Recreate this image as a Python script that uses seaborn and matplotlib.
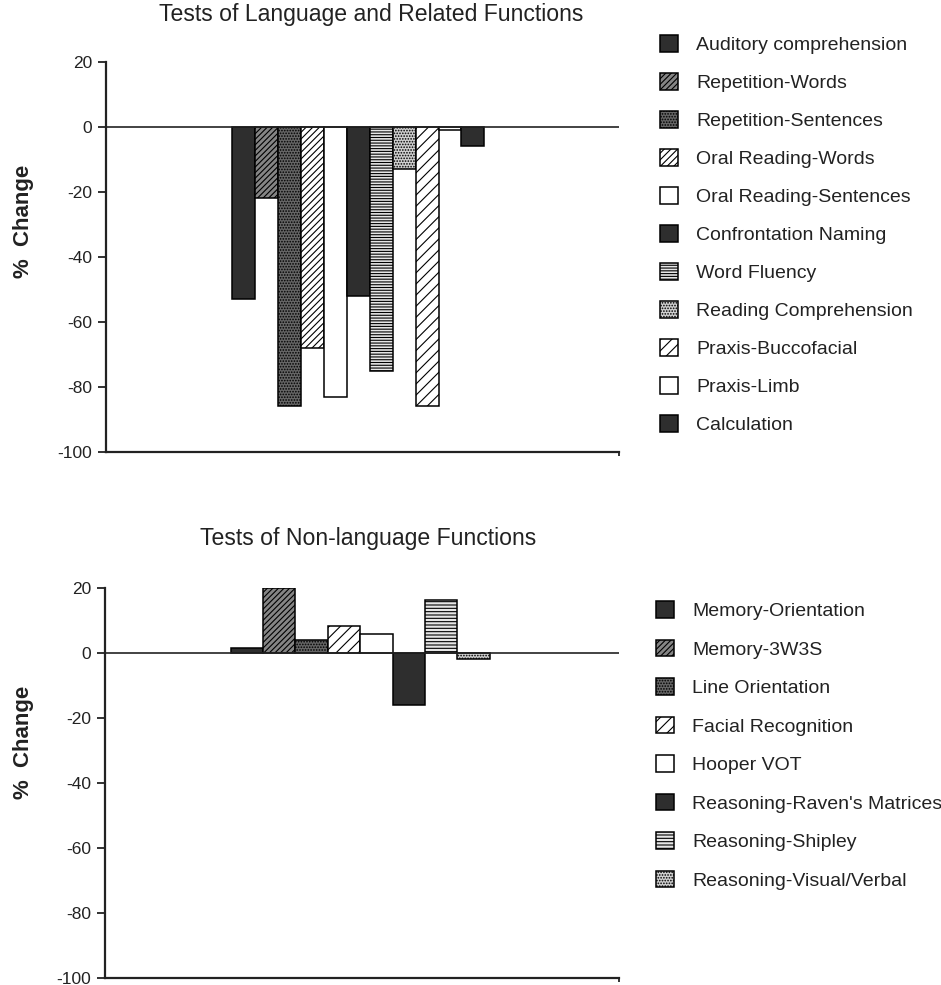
import matplotlib
matplotlib.use("Agg")
import matplotlib.pyplot as plt
import seaborn as sns
import pandas as pd
from matplotlib.patches import Patch

# ---- data -------------------------------------------------------------
lang_tests = [
    "Auditory comprehension", "Repetition-Words", "Repetition-Sentences",
    "Oral Reading-Words", "Oral Reading-Sentences", "Confrontation Naming",
    "Word Fluency", "Reading Comprehension", "Praxis-Buccofacial",
    "Praxis-Limb", "Calculation",
]
lang_change = [-53, -22, -86, -68, -83, -52, -75, -13, -86, -1, -6]

nonlang_tests = [
    "Memory-Orientation", "Memory-3W3S", "Line Orientation",
    "Facial Recognition", "Hooper VOT", "Reasoning-Raven's Matrices",
    "Reasoning-Shipley", "Reasoning-Visual/Verbal",
]
nonlang_change = [1.5, 20, 4, 8.5, 6, -16, 16.5, -1.8]

y_ticks = [20, 0, -20, -40, -60, -80, -100]
titles = ["Tests of Language and Related Functions", "Tests of Non-language Functions"]
y_label = "%  Change"

# ---- fill styles (face colour, hatch) ----------------------------------
DARK = "#2e2e2e"
styles_lang = [
    (DARK, None),             # solid
    ("#858585", "//////"),    # dark diagonal
    ("#666666", "......"),    # dark stipple
    ("white", "/////"),       # dense diagonal
    ("white", None),          # open
    (DARK, None),             # solid
    ("#e6e6e6", "------"),    # horizontal lines
    ("#d0d0d0", "......"),    # light stipple
    ("white", "///"),         # sparse diagonal
    ("white", None),          # open
    (DARK, None),             # solid
]
styles_nonlang = [
    (DARK, None),
    ("#858585", "//////"),
    ("#666666", "......"),
    ("white", "///"),
    ("white", None),
    (DARK, None),
    ("#e6e6e6", "-----"),
    ("#d0d0d0", "......"),
]

# ---- theme ------------------------------------------------------------
sns.set_theme(style="ticks")
plt.rcParams["font.family"] = ["Liberation Sans", "DejaVu Sans"]
plt.rcParams["axes.unicode_minus"] = False
plt.rcParams["hatch.linewidth"] = 0.8
TXT = "#222222"

W, H = 941, 985
fig = plt.figure(figsize=(W / 100, H / 100), dpi=100)
fig.patch.set_facecolor("white")


def px_axes(left, right, top, bottom):
    return fig.add_axes([left / W, 1 - bottom / H, (right - left) / W, (bottom - top) / H])


def draw_panel(ax, tests, values, styles, group_width, x_shift):
    df = pd.DataFrame({"group": ["all"] * len(tests), "test": tests, "change": values})
    palette = {t: s[0] for t, s in zip(tests, styles)}
    sns.barplot(
        data=df, x="group", y="change", hue="test", hue_order=tests,
        palette=palette, width=group_width, saturation=1, dodge=True,
        edgecolor="black", linewidth=1.1, errorbar=None, legend=False,
        ax=ax, zorder=3,
    )
    for cont, (face, hatch) in zip(ax.containers, styles):
        for bar in cont:
            bar.set_facecolor(face)
            bar.set_edgecolor("black")
            if hatch:
                bar.set_hatch(hatch)
    ax.axhline(0, color="#222222", lw=1.2, zorder=4)
    lo, hi = -0.5 + x_shift, 0.5 + x_shift
    ax.set_xlim(lo, hi)
    ax.set_ylim(-100, 20)
    ax.set_xticks([hi])
    ax.set_xticklabels([""])
    ax.tick_params(axis="x", length=3, width=1.3, direction="out", color="#222222")
    ax.set_yticks(y_ticks)
    ax.set_yticklabels([str(v) for v in y_ticks])
    ax.tick_params(axis="y", length=5.5, width=1.3, direction="out", pad=4,
                   labelsize=12.5, labelcolor=TXT, color="#222222")
    ax.set_xlabel("")
    ax.set_ylabel("")
    for side in ("top", "right"):
        ax.spines[side].set_visible(False)
    for side in ("left", "bottom"):
        ax.spines[side].set_linewidth(1.6)
        ax.spines[side].set_color("#222222")
    ax.set_facecolor("white")


def draw_legend(tests, styles, x_px, top_px, spacing):
    handles = [
        Patch(facecolor=f, edgecolor="black", hatch=h, linewidth=1.1)
        for f, h in styles
    ]
    leg = fig.legend(
        handles, tests, loc="upper left",
        bbox_to_anchor=(x_px / W, 1 - top_px / H), bbox_transform=fig.transFigure,
        frameon=False, fontsize=14, handlelength=0.95, handleheight=0.95,
        handletextpad=0.9, labelspacing=spacing, borderpad=0, borderaxespad=0,
    )
    for t in leg.get_texts():
        t.set_color(TXT)


ax_top = px_axes(105.5, 619, 62, 452)
draw_panel(ax_top, lang_tests, lang_change, styles_lang, 0.492, 0.008)
ax_bot = px_axes(104.5, 619, 588.3, 977.5)
draw_panel(ax_bot, nonlang_tests, nonlang_change, styles_nonlang, 0.504, 0.003)

fig.text(371 / W, 1 - 14 / H, titles[0], ha="center", va="center", fontsize=16.6, color=TXT)
fig.text(368 / W, 1 - 538 / H, titles[1], ha="center", va="center", fontsize=16.6, color=TXT)
fig.text(24 / W, 1 - 221 / H, y_label, rotation=90, ha="center", va="center",
         fontsize=16, fontweight="bold", color=TXT)
fig.text(24 / W, 1 - 742 / H, y_label, rotation=90, ha="center", va="center",
         fontsize=16, fontweight="bold", color=TXT)

draw_legend(lang_tests, styles_lang, 660, 35, 0.975)
draw_legend(nonlang_tests, styles_nonlang, 656, 601, 1.0)

fig.savefig("out.png", dpi=100, facecolor="white")
